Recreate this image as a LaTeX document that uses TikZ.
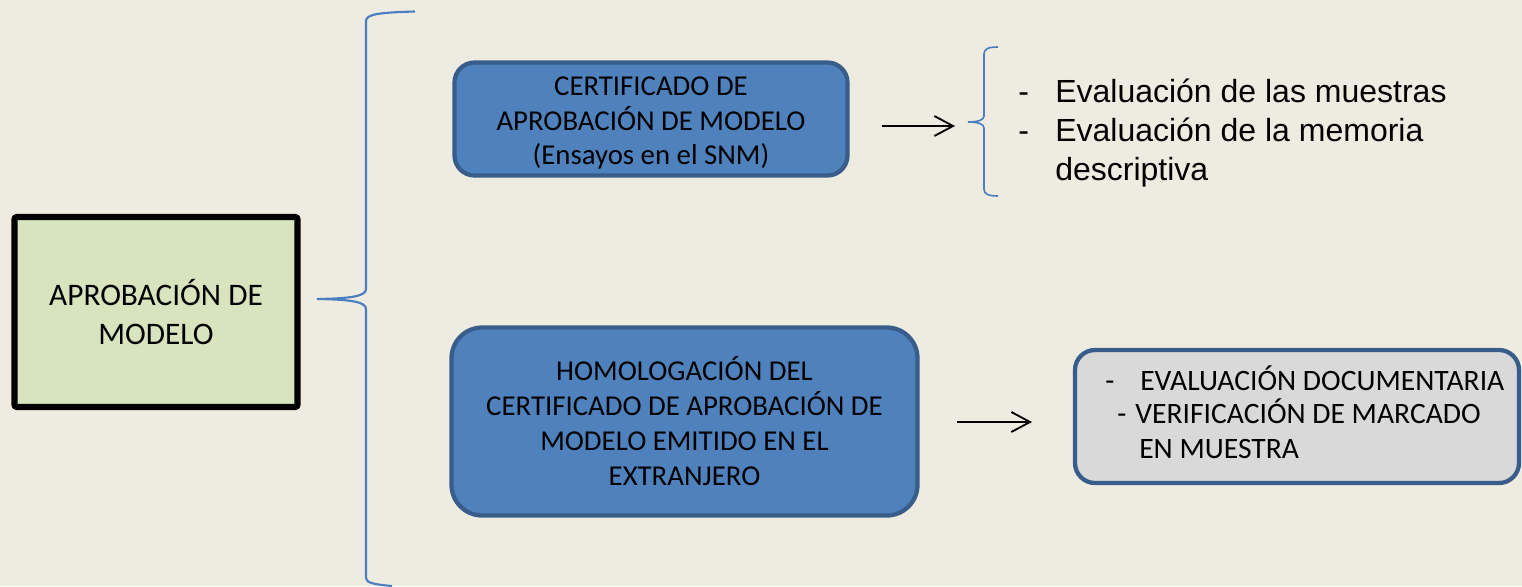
\documentclass[tikz,border=0pt]{standalone}
\usepackage{fontspec}
\newfontfamily\carl{Carlito}
\newfontfamily\arialf{Liberation Sans}
\usetikzlibrary{arrows.meta}
\definecolor{bg}{RGB}{238,236,225}
\definecolor{greenfill}{RGB}{215,228,189}
\definecolor{bluefill}{RGB}{79,129,189}
\definecolor{blueline}{RGB}{56,93,138}
\definecolor{bracecol}{RGB}{74,126,193}
\definecolor{grayfill}{RGB}{217,217,217}
\tikzset{
  mainbox/.style={draw=black, line width=4.8pt, fill=greenfill, rounded corners=2pt,
    inner sep=0pt, align=center, font=\carl\fontsize{23.5}{29.25}\selectfont},
  bluebox/.style={draw=blueline, line width=3.2pt, fill=bluefill, inner sep=0pt,
    align=center, font=\carl\fontsize{21.6}{26}\selectfont},
  graybox/.style={draw=blueline, line width=3.2pt, fill=grayfill, inner sep=0pt, rounded corners=15pt},
  brace/.style={draw=bracecol, line width=1.6pt},
  arr/.style={draw=black, line width=1.4pt, -{Straight Barb[length=14pt,width=15pt]}},
  listtext/.style={anchor=base west, inner sep=0pt, font=\arialf\fontsize{24}{29.25}\selectfont},
  graytext/.style={anchor=base west, inner sep=0pt, font=\carl\fontsize{22.2}{25.5}\selectfont}
}
\begin{document}
\begin{tikzpicture}[x=0.75pt, y=-0.75pt]
\useasboundingbox (0,0) rectangle (1522,586);
\fill[bg] (0,0) rectangle (1522,586);

% main box
\node[mainbox, minimum width=283*0.75pt, minimum height=190*0.75pt] (main) at (156,312) {APROBACIÓN DE\\MODELO};

% big brace
\draw[brace] (415,11.5) .. controls (380,12.5) and (366,14) .. (366,21) -- (366,289)
  .. controls (366,296) and (352,298.5) .. (317,299)
  .. controls (352,299.5) and (366,302) .. (366,309) -- (366,578)
  .. controls (366,583) and (375,584.5) .. (392,586);

% blue boxes
\node[bluebox, rounded corners=15pt, minimum width=393*0.75pt, minimum height=113*0.75pt] (b1) at (651,119)
  {\rule{0pt}{20pt}CERTIFICADO DE\\APROBACIÓN DE MODELO\\(Ensayos en el SNM)};
\node[bluebox, rounded corners=23pt, minimum width=466*0.75pt, minimum height=188*0.75pt, font=\carl\fontsize{21.6}{26.25}\selectfont] (b2) at (684.5,421.5)
  {HOMOLOGACIÓN DEL\\CERTIFICADO DE APROBACIÓN DE\\MODELO EMITIDO EN EL\\EXTRANJERO};

% small brace
\draw[brace, line width=1.2pt] (998,47) .. controls (988,47) and (984,49) .. (984,54) -- (984,116)
  .. controls (984,120) and (978,122) .. (968,122)
  .. controls (978,122) and (984,124) .. (984,128) -- (984,189)
  .. controls (984,194) and (988,196) .. (998,196);

% arrow 1
\coordinate (a1e) at (955,126);
\draw[arr, shorten <=24pt] (b1.east |- a1e) -- (a1e);

% list text
\node[listtext] (l1) at (1018,102) {-};
\node[listtext] (l1t) at (1055,102) {Evaluación de las muestras};
\node[listtext] (l2) at (1018,141) {-};
\node[listtext] (l2t) at (1055,141) {Evaluación de la memoria};
\node[listtext] (l3t) at (1055,180) {descriptiva};

% gray box
\node[graybox, minimum width=444*0.75pt, minimum height=133*0.75pt] (g) at (1297,416.5) {};
\node[graytext] (g1) at (1105,390) {-};
\node[graytext] (g1t) at (1140,390) {EVALUACIÓN DOCUMENTARIA};
\node[graytext] (g2) at (1117,423) {-};
\node[graytext] (g2t) at (1135,423) {VERIFICACIÓN DE MARCADO};
\node[graytext] (g3t) at (1139,458) {EN MUESTRA};

% arrow 2
\coordinate (a2e) at (1032,422);
\draw[arr, shorten <=28pt] (b2.east |- a2e) -- (a2e);
\end{tikzpicture}
\end{document}
